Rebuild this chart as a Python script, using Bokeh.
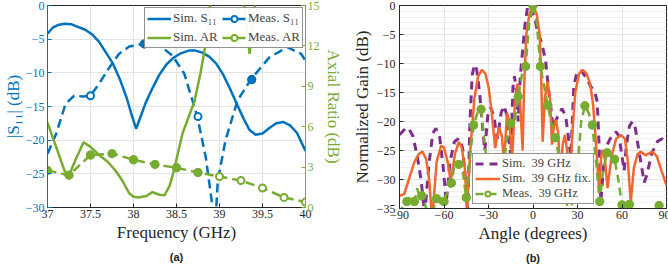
from bokeh.plotting import figure
from bokeh.models import Range1d, LinearAxis, Legend, LegendItem, Title, FixedTicker
from bokeh.layouts import row
from bokeh.embed import file_html
from bokeh.resources import INLINE

# ---------------- (a) data ----------------
freq_sim = [37.0, 37.06, 37.12, 37.2, 37.28, 37.36, 37.44, 37.52, 37.6, 37.68, 37.76, 37.84, 37.92,
            37.98, 38.03, 38.08, 38.14, 38.22, 38.3, 38.38, 38.46, 38.55, 38.64, 38.72, 38.8, 38.88,
            38.96, 39.04, 39.12, 39.2, 39.28, 39.35, 39.42, 39.5, 39.58, 39.66, 39.74, 39.82, 39.9, 40.0]
s11_sim = [-4.2, -3.3, -2.9, -2.7, -2.8, -3.2, -3.6, -4.3, -5.4, -7.0, -8.6, -10.9, -13.7,
           -16.3, -18.3, -16.6, -14.5, -12.3, -10.3, -8.8, -7.8, -7.1, -6.7, -6.7, -7.0, -7.6,
           -8.6, -10.2, -12.3, -14.6, -16.8, -18.5, -19.2, -19.0, -18.2, -17.5, -17.3, -17.8, -18.9, -21.6]

freq_meas = [37.0, 37.1, 37.21, 37.31, 37.41, 37.5, 37.6, 37.72, 37.83, 37.95, 38.12, 38.3, 38.45,
             38.59, 38.74, 38.84, 38.92, 38.95, 38.98, 39.07, 39.21, 39.37, 39.58, 39.79, 39.95, 40.0]
s11_meas = [-22.0, -19.1, -14.6, -13.4, -13.5, -13.4, -11.6, -9.2, -7.2, -6.1, -5.7, -5.9, -7.4,
            -10.1, -16.4, -22.5, -30.0, -33.0, -26.0, -20.0, -14.1, -10.9, -7.7, -6.2, -7.2, -8.2]
freq_meas_mk = [37.5, 38.125, 38.75, 39.375]
s11_meas_mk = [-13.4, -5.7, -16.5, -11.0]

freq_ar_sim = [37.0, 37.1, 37.2, 37.25, 37.33, 37.42, 37.5, 37.6, 37.7, 37.79, 37.87, 37.95, 38.0,
               38.05, 38.15, 38.22, 38.3, 38.36, 38.42, 38.47, 38.57, 38.64, 38.71, 38.78, 38.84,
               38.9, 39.28, 39.35, 39.42, 40.0]
ar_sim = [6.3, 4.5, 2.7, 2.4, 3.6, 4.85, 4.5, 3.9, 3.4, 2.75, 2.0, 1.06, 0.8,
          0.75, 0.85, 1.14, 0.95, 0.9, 1.6, 2.75, 5.5, 6.7, 7.9, 10.0, 12.2,
          15.5, 15.5, 11.4, 15.5, 16.0]

freq_ar_meas = [37.0, 37.25, 37.5, 37.75, 38.0, 38.25, 38.5, 38.75, 39.0, 39.25, 39.5, 39.75, 40.0]
ar_meas = [2.75, 2.4, 3.9, 4.0, 3.55, 3.2, 2.95, 2.6, 2.3, 2.0, 1.45, 0.75, 0.4]

freq_ticks = [37, 37.5, 38, 38.5, 39, 39.5, 40]
freq_tick_labels = ["37", "37.5", "38", "38.5", "39", "39.5", "40"]
s11_ticks = [-30, -25, -20, -15, -10, -5, 0]
ar_ticks = [0, 3, 6, 9, 12, 15]

# ---------------- (b) data ----------------
ang_sim = [-90, -86, -84, -81, -78, -75.5, -73, -70, -67.5, -65.5, -63, -60.5, -58.5, -56, -53, -50,
           -47.5, -45.5, -44, -42.5, -41, -39.5, -38, -36, -34, -32.5, -30.5, -28.5, -26.5, -24,
           -21.5, -19.5, -17.5, -15, -13.5, -12.5, -11, -10, -8.5, -7, -5.5, -3.5, -1.5, 1, 3, 5,
           6.5, 8.5, 10.5, 12, 13.5, 15, 17, 19.5, 22, 24, 25.5, 27.5, 29.5, 31, 33, 36, 39, 41.6,
           43.3, 44.7, 45.7, 47.5, 50, 53, 56, 58, 60, 61.5, 63, 65, 67, 69, 72, 75, 77, 80, 84, 87, 90]
gain_sim = [-22.3, -21.2, -21.1, -22.5, -26, -30, -36, -27, -22, -21.2, -22.5, -28, -34, -27, -23.5, -22.9,
            -24.5, -30, -36, -20, -12, -10.2, -11, -15, -21, -25, -19, -17.6, -19, -23,
            -18.5, -17.3, -19, -26, -14, -12.2, -15, -20, -12, -7.8, -3.5, 0, -0.5, -2, -4.5, -5.8,
            -7.2, -9.5, -14.5, -17.5, -21, -20, -19, -17.8, -19, -23, -26, -14, -11.6, -11.2, -11.4, -12.5, -14, -14.8,
            -16.6, -25, -34, -28, -24, -22.5, -21.8, -22.5, -26, -28.5, -24, -20.8, -20, -21.2, -26, -30.5, -29, -25.5, -23.4, -23, -23.8]

ang_fix = [-90, -86.8, -80, -77, -74.5, -72, -70, -68, -65, -62, -60, -57.5, -55.5, -52.5, -50, -48,
           -46, -44.5, -42, -39.5, -37, -34.5, -32, -30, -28, -25.5, -23, -21, -19.5, -17.5, -16,
           -14, -12, -10.5, -9, -7, -6, -4.5, -2.5, 0, 2.5, 4.5, 5.5, 6.5, 8, 9.8, 11.5, 12.8, 14,
           15.4, 17, 18.5, 20, 21.5, 23, 24.5, 26.5, 28.5, 31, 33.5, 36, 38.5, 40.5, 42.5, 44.6, 46,
           46.9, 48.5, 50.2, 53, 56, 59.2, 62, 64, 65.9, 68, 70.5, 72.6, 76, 80.5, 83.5, 86, 90]
gain_fix = [-32.8, -32.5, -27, -25.6, -25.2, -26.5, -30, -37, -27, -24.2, -24.5, -27, -30.3, -25.5, -23.5, -24.5,
            -28, -35, -24, -16, -12.2, -11.1, -11.8, -14, -18, -24.6, -21, -22.5, -27, -18.5, -20,
            -26, -16, -13.5, -15, -25, -14, -5, -1.5, 0, -1.5, -5, -12, -23.5, -16, -13.1, -16, -24, -21,
            -19.7, -22, -30, -24, -22.3, -25, -33, -22, -15, -11.8, -11.1, -11.7, -13.5, -17, -24, -32, -26,
            -24.9, -26.5, -31.5, -26, -23, -22.3, -23, -27, -34, -28, -25.6, -25.2, -25.8, -25.2, -26, -28, -31]

ang_meas = [-90, -87, -85, -82.5, -80, -78, -76, -75, -72.5, -70, -67, -65, -62.5, -60, -57.5, -55, -52.5,
            -50, -47.5, -45, -42.5, -40, -37.5, -35, -32.5, -30, -27.5, -25, -22.5, -20, -17.5, -15,
            -12.5, -10, -7.5, -5, -2.5, 0, 2.5, 5, 7.5, 10, 12.5, 15, 17.5, 20, 22.5, 25, 27.5, 30,
            32.5, 35, 37.5, 40, 42.5, 45, 47.5, 50, 52.5, 55, 57.5, 60, 62.5, 65, 67.5, 70, 75, 80,
            82.5, 85, 87.5, 90]
gain_meas = [-36, -34, -33.8, -33, -33.8, -31.5, -33.5, -32.8, -34.5, -37, -35, -33.3, -34, -33.8, -32, -30.6, -27,
             -27.4, -28.5, -33.1, -26, -20.6, -18.5, -17.9, -24, -30, -27, -26.4, -27, -28, -23, -20.3,
             -20, -15.7, -12, -10.5, -3, 0, -3, -10.5, -14, -17.2, -20.5, -22.8, -26, -30, -34, -36, -32, -28,
             -20, -17.3, -18.5, -20.6, -27, -33.8, -28, -25.4, -26, -26.5, -30, -34.4, -33.5, -34.3, -36, -37, -37, -36,
             -35.5, -34.5, -35.5, -37]

ang_ticks = [-90, -60, -30, 0, 30, 60, 90]
gain_ticks = [-35, -30, -25, -20, -15, -10, -5, 0]

# ---------------- styles ----------------
BLUE = "#0072BD"
GREEN = "#77AC30"
ORANGE = "#F0682E"
PURPLE = "#7E2F8E"
AXC = "#262626"
GRID = "#e3e3e3"
SERIF = "Liberation Serif"


def style_axis(ax, color=AXC):
    ax.major_tick_in = 4
    ax.major_tick_out = 0
    ax.minor_tick_in = 0
    ax.minor_tick_out = 0
    ax.axis_line_color = color
    ax.major_tick_line_color = color
    ax.major_label_text_color = color
    ax.major_label_text_font = SERIF
    ax.major_label_text_font_size = "12px"
    ax.axis_label_text_font = SERIF
    ax.axis_label_text_font_style = "normal"
    ax.axis_label_text_font_size = "17px"
    ax.axis_label_text_color = color


def style_legend(lg):
    lg.padding = 2
    lg.label_standoff = 2
    lg.label_text_font = SERIF
    lg.border_line_color = AXC
    lg.border_line_width = 1


def panel_title(text):
    return Title(text=text, align="center", vertical_align="top", text_font="Liberation Sans",
                 text_font_size="11px", text_font_style="bold", text_color="#222222", standoff=12)


# ---------------- figure (a) ----------------
p1 = figure(frame_width=258, frame_height=202, x_range=Range1d(37, 40), y_range=Range1d(-30, 0),
            output_backend="svg", toolbar_location=None,
            min_border_left=45, min_border_right=42, min_border_top=5, min_border_bottom=62)
p1.extra_y_ranges = {"ar": Range1d(0, 15)}
p1.outline_line_color = AXC
p1.xgrid.grid_line_color = GRID
p1.ygrid.grid_line_color = GRID

p1.xaxis.ticker = FixedTicker(ticks=freq_ticks)
p1.xaxis.major_label_overrides = dict(zip(freq_ticks, freq_tick_labels))
p1.yaxis.ticker = FixedTicker(ticks=s11_ticks)
style_axis(p1.xaxis[0])
style_axis(p1.yaxis[0], BLUE)
p1.xaxis.axis_label = "Frequency (GHz)"
p1.xaxis.major_label_standoff = 2
p1.xaxis.axis_label_standoff = 2
p1.yaxis.axis_label = "|S₁₁| (dB)"
p1.yaxis.major_label_standoff = 3
p1.yaxis.axis_label_standoff = 0

ax_r = LinearAxis(y_range_name="ar", ticker=FixedTicker(ticks=ar_ticks), axis_label="Axial Ratio (dB)")
style_axis(ax_r, GREEN)
ax_r.major_label_standoff = 2
ax_r.axis_label_standoff = 1
p1.add_layout(ax_r, "right")

r_sim_s11 = p1.line(freq_sim, s11_sim, line_color=BLUE, line_width=2.5)
r_meas_s11 = p1.line(freq_meas, s11_meas, line_color=BLUE, line_width=2.5, line_dash="9 5")
r_s11_open = p1.scatter(freq_meas_mk, s11_meas_mk, marker="circle", size=7, line_color=BLUE,
                        line_width=2, fill_color="white")
p1.scatter(freq_meas_mk[1::2], s11_meas_mk[1::2], marker="circle", size=7, line_color=BLUE,
           line_width=2, fill_color=BLUE)

r_sim_ar = p1.line(freq_ar_sim, ar_sim, line_color=GREEN, line_width=2.5, y_range_name="ar")
r_meas_ar = p1.line(freq_ar_meas, ar_meas, line_color=GREEN, line_width=2.5, line_dash="9 5",
                    y_range_name="ar")
r_ar_open = p1.scatter(freq_ar_meas, ar_meas, marker="circle", size=7, line_color=GREEN, line_width=2,
                       fill_color="white", y_range_name="ar")
p1.scatter(freq_ar_meas[:8], ar_meas[:8], marker="circle", size=7, line_color=GREEN, line_width=2,
           fill_color=GREEN, y_range_name="ar")

leg1 = Legend(items=[
    LegendItem(label="Sim. S₁₁", renderers=[r_sim_s11]),
    LegendItem(label="Meas. S₁₁", renderers=[r_meas_s11, r_s11_open]),
    LegendItem(label="Sim. AR", renderers=[r_sim_ar]),
    LegendItem(label="Meas. AR", renderers=[r_meas_ar, r_ar_open]),
], orientation="horizontal", ncols=2, location="top_right")
style_legend(leg1)
leg1.margin = 2
leg1.spacing = 3
leg1.glyph_width = 24
leg1.glyph_height = 15
leg1.label_height = 15
leg1.label_width = 46
leg1.label_text_font_size = "13px"
p1.add_layout(leg1)
p1.add_layout(panel_title("(a)"), "below")

# ---------------- figure (b) ----------------
p2 = figure(frame_width=267, frame_height=203, x_range=Range1d(-90, 90), y_range=Range1d(-35, 0),
            output_backend="svg", toolbar_location=None,
            min_border_left=52, min_border_right=4, min_border_top=4, min_border_bottom=62)
p2.outline_line_color = AXC
p2.xgrid.grid_line_color = GRID
p2.ygrid.grid_line_color = GRID
p2.ygrid.minor_grid_line_color = "#f1f1f1"
p2.xaxis.ticker = FixedTicker(ticks=ang_ticks)
p2.yaxis.ticker = FixedTicker(ticks=gain_ticks, minor_ticks=list(range(-35, 1)))
style_axis(p2.xaxis[0])
style_axis(p2.yaxis[0])
p2.xaxis.axis_label = "Angle (degrees)"
p2.xaxis.major_label_standoff = 2
p2.xaxis.axis_label_standoff = 2
p2.yaxis.axis_label = "Normalized Gain (dB)"
p2.yaxis.major_label_standoff = 4
p2.yaxis.axis_label_standoff = 2

r_sim = p2.line(ang_sim, gain_sim, line_color=PURPLE, line_width=3, line_dash="8 6")
r_fix = p2.line(ang_fix, gain_fix, line_color=ORANGE, line_width=2.5)
r_meas = p2.line(ang_meas, gain_meas, line_color=GREEN, line_width=2.5, line_dash="8 5")
mk_a = [a for a in ang_meas if a % 5 == 0]
mk_g = [g for a, g in zip(ang_meas, gain_meas) if a % 5 == 0]
r_meas_open = p2.scatter(mk_a, mk_g, marker="circle", size=7, line_color=GREEN, line_width=2,
                         fill_color="white")
p2.scatter(mk_a, mk_g, marker="circle", size=7, line_color=GREEN, line_width=2, fill_color=GREEN)

leg2 = Legend(items=[
    LegendItem(label="Sim.  39 GHz", renderers=[r_sim]),
    LegendItem(label="Sim.  39 GHz fix.", renderers=[r_fix]),
    LegendItem(label="Meas.  39 GHz", renderers=[r_meas, r_meas_open]),
], location=(73, 4))
style_legend(leg2)
leg2.margin = 0
leg2.spacing = 0
leg2.glyph_width = 25
leg2.glyph_height = 13
leg2.label_height = 13
leg2.label_text_font_size = "12.5px"
p2.add_layout(leg2)
p2.add_layout(panel_title("(b)"), "below")

layout = row(p1, p2)
open("out.html", "w").write(file_html(layout, INLINE))
